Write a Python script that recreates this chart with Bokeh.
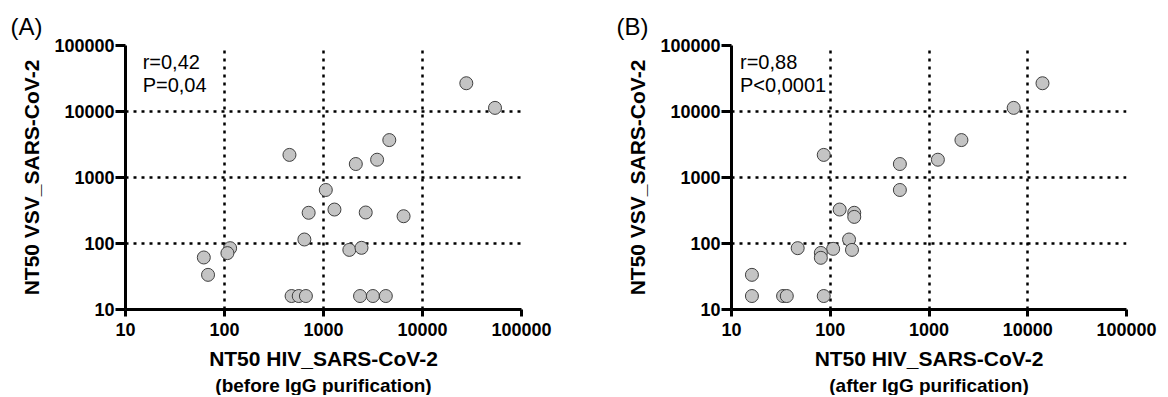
from bokeh.plotting import figure
from bokeh.models import Range1d, FixedTicker, Label, Title
from bokeh.layouts import row
from bokeh.embed import file_html
from bokeh.resources import INLINE

# ---- data ----
tick_values = [10, 100, 1000, 10000, 100000]
tick_labels = ["10", "100", "1000", "10000", "100000"]
grid_values = [100, 1000, 10000]

# Panel A: before IgG purification
hiv_before = [27700, 54000, 453, 4620, 2120, 3480, 1055, 708, 1290, 2670, 6440, 641,
              1824, 2420, 114, 107, 61.8, 68.2, 476, 562, 664, 2340, 3155, 4260]
vsv_a = [26800, 11350, 2200, 3690, 1600, 1860, 647, 292, 327, 295, 259, 115,
         80, 86, 85, 71.5, 61.4, 33.5, 16, 16, 16, 16, 16, 16]

# Panel B: after IgG purification
hiv_after = [14100, 7200, 85.9, 2130, 507, 1230, 507, 124.5, 175, 175, 155,
             166, 107, 46.8, 80.3, 80.3, 16.1, 16.1, 33.3, 36.3, 85.9]
vsv_b = [26800, 11350, 2200, 3690, 1600, 1860, 647, 327, 292, 253, 115,
         80, 83, 85, 72, 60.7, 33.5, 16, 16, 16, 16]

panel_letters = ["(A)", "(B)"]
stats_a = ["r=0,42", "P=0,04"]
stats_b = ["r=0,88", "P<0,0001"]
x_title = "NT50 HIV_SARS-CoV-2"
y_title = "NT50 VSV_SARS-CoV-2"
subtitles = ["(before IgG purification)", "(after IgG purification)"]

FONT = "Liberation Sans"


def make_panel(xs, ys, letter, stats, subtitle, width, left, right, letter_off, stats_x):
    p = figure(width=width, height=395, x_axis_type="log", y_axis_type="log",
               x_range=Range1d(10, 100000), y_range=Range1d(10, 100000),
               output_backend="svg", toolbar_location=None,
               min_border_left=left, min_border_right=right,
               min_border_top=45, min_border_bottom=85)
    p.outline_line_color = None
    p.background_fill_color = "white"
    p.border_fill_color = "white"

    overrides = {v: t for v, t in zip(tick_values, tick_labels)}
    for ax in (p.xaxis[0], p.yaxis[0]):
        ax.ticker = FixedTicker(ticks=tick_values)
        ax.major_label_overrides = overrides
        ax.minor_tick_line_color = None
        ax.major_tick_in = 0
        ax.axis_line_width = 3
        ax.axis_line_color = "black"
        ax.major_tick_line_width = 3
        ax.major_tick_line_color = "black"
        ax.major_label_text_font = FONT
        ax.major_label_text_font_size = "18px"
        ax.major_label_text_font_style = "bold"
        ax.major_label_text_color = "black"
        ax.axis_label_text_font = FONT
        ax.axis_label_text_font_size = "21px"
        ax.axis_label_text_font_style = "bold"
        ax.axis_label_text_color = "black"
    p.xaxis.major_tick_out = 7
    p.yaxis.major_tick_out = 10
    p.xaxis.major_label_standoff = 6
    p.yaxis.major_label_standoff = 1
    p.xaxis.axis_label = x_title
    p.yaxis.axis_label = y_title
    p.xaxis.axis_label_standoff = 8
    p.yaxis.axis_label_standoff = 8

    for g in (p.xgrid[0], p.ygrid[0]):
        g.ticker = FixedTicker(ticks=grid_values)
        g.grid_line_color = "black"
        g.grid_line_width = 2.5
        g.grid_line_dash = "3 5"

    p.scatter(xs, ys, size=13, fill_color="#c4c4c4", line_color="#404040", line_width=1)

    p.add_layout(Label(x=stats_x, y=57000, text=stats[0], text_font=FONT,
                       text_font_size="20px", text_align="left",
                       text_baseline="middle", text_color="black"))
    p.add_layout(Label(x=stats_x, y=25000, text=stats[1], text_font=FONT,
                       text_font_size="20px", text_align="left",
                       text_baseline="middle", text_color="black"))
    p.add_layout(Title(text=subtitle, align="center", text_font=FONT,
                       text_font_size="19px", text_font_style="bold",
                       text_color="black", standoff=0, offset=0), "below")
    p.add_layout(Title(text=letter, align="left", text_font=FONT,
                       text_font_size="24px", text_font_style="normal",
                       text_color="black", standoff=11, offset=letter_off), "above")
    return p


pa = make_panel(hiv_before, vsv_a, panel_letters[0], stats_a, subtitles[0],
                width=608, left=125, right=87, letter_off=-115, stats_x=14.9)
pb = make_panel(hiv_after, vsv_b, panel_letters[1], stats_b, subtitles[1],
                width=552, left=123, right=34, letter_off=-115, stats_x=12.2)

layout = row(pa, pb)
open("out.html", "w").write(file_html(layout, INLINE))
